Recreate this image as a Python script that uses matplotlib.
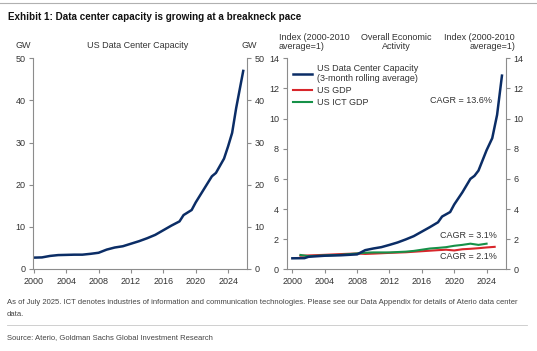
import matplotlib
matplotlib.use("Agg")
import matplotlib.pyplot as plt
from matplotlib.lines import Line2D

# US data center capacity, GW
gw_years = [2000.0, 2001.0, 2002.0, 2003.0, 2004.0, 2005.0, 2006.0, 2007.0, 2008.0,
            2009.0, 2010.0, 2011.0, 2012.0, 2013.0, 2014.0, 2015.0, 2016.0, 2017.0,
            2018.0, 2018.5, 2019.5, 2020.0, 2021.0, 2022.0, 2022.5, 2023.0, 2023.5,
            2024.0, 2024.5, 2025.0, 2025.9]
gw_values = [2.7, 2.75, 3.1, 3.3, 3.35, 3.4, 3.4, 3.6, 3.85,
             4.6, 5.1, 5.4, 6.0, 6.6, 7.3, 8.1, 9.2, 10.3,
             11.3, 12.8, 14.0, 15.8, 18.9, 22.0, 22.8, 24.5, 26.2,
             29.1, 32.3, 38.2, 47.3]

# Index (2000-2010 average = 1)
dc_years = [2000.0, 2001.5, 2002.0, 2004.0, 2006.0, 2008.0, 2009.0, 2010.0, 2011.0,
            2012.0, 2013.0, 2014.0, 2015.0, 2016.0, 2017.0, 2018.0, 2018.5, 2019.5,
            2020.0, 2021.0, 2022.0, 2022.5, 2023.0, 2024.0, 2024.7, 2025.3, 2025.9]
dc_index = [0.73, 0.74, 0.83, 0.9, 0.93, 0.99, 1.27, 1.38, 1.47,
            1.62, 1.78, 1.98, 2.2, 2.5, 2.8, 3.12, 3.5, 3.8,
            4.3, 5.1, 6.0, 6.2, 6.55, 7.9, 8.7, 10.25, 12.85]

gdp_years = [2001, 2002, 2004, 2006, 2008, 2009, 2010, 2012, 2014, 2016, 2018,
             2019, 2020, 2021, 2022, 2023, 2024, 2025]
gdp_index = [0.9, 0.92, 0.96, 1.01, 1.05, 1.02, 1.04, 1.09, 1.13, 1.2, 1.27,
             1.3, 1.25, 1.33, 1.36, 1.4, 1.45, 1.49]

ict_years = [2001, 2002, 2004, 2006, 2008, 2009, 2010, 2012, 2014, 2015, 2016,
             2017, 2018, 2019, 2020, 2021, 2022, 2023, 2024]
ict_index = [0.95, 0.87, 0.92, 0.96, 1.05, 1.1, 1.12, 1.12, 1.17, 1.22, 1.3,
             1.38, 1.42, 1.47, 1.56, 1.62, 1.7, 1.62, 1.7]

year_ticks = [2000, 2004, 2008, 2012, 2016, 2020, 2024]

NAVY = "#0b2d66"
RED = "#d8262b"
GREEN = "#169148"
SPINE = "#8c8c8c"
TXT = "#333333"

plt.rcParams["font.family"] = ["Liberation Sans", "DejaVu Sans"]

W, H = 537, 351
fig = plt.figure(figsize=(W / 100, H / 100), dpi=100)


def px(x, y):
    return x / W, 1 - y / H


def style_axis(ax):
    ax.spines["top"].set_visible(False)
    for s in ("left", "right", "bottom"):
        ax.spines[s].set_color(SPINE)
        ax.spines[s].set_linewidth(0.8)
    ax.tick_params(axis="both", direction="out", length=3, width=0.8, color=SPINE,
                   labelsize=6.5, labelcolor=TXT, pad=2.5)
    ax.tick_params(axis="y", right=True, labelright=True)
    ax.set_xticks(year_ticks)
    ax.set_xticklabels([str(y) for y in year_ticks])


# left panel
axL = fig.add_axes([33 / W, 1 - 269 / H, (246.7 - 33) / W, (269 - 58.3) / H])
axL.plot(gw_years, gw_values, color=NAVY, lw=1.8, solid_capstyle="butt")
axL.set_xlim(1999.9, 2026.3)
axL.set_ylim(0, 50)
axL.set_yticks(range(0, 51, 10))
style_axis(axL)

# right panel
axR = fig.add_axes([286.7 / W, 1 - 269.3 / H, (506 - 286.7) / W, (269.3 - 58.3) / H])
axR.plot(gdp_years, gdp_index, color=RED, lw=1.5, zorder=2)
axR.plot(ict_years, ict_index, color=GREEN, lw=1.5, zorder=3)
axR.plot(dc_years, dc_index, color=NAVY, lw=1.8, zorder=4)
axR.set_xlim(1999.3, 2026.4)
axR.set_ylim(0, 14)
axR.set_yticks(range(0, 15, 2))
style_axis(axR)

handles = [Line2D([], [], color=NAVY, lw=1.8),
           Line2D([], [], color=RED, lw=1.5),
           Line2D([], [], color=GREEN, lw=1.5)]
labels = ["US Data Center Capacity\n(3-month rolling average)", "US GDP", "US ICT GDP"]
axR.legend(handles, labels, loc="upper left", bbox_to_anchor=(0.027, 0.975),
           frameon=False, fontsize=6.5, handlelength=2.1, handletextpad=0.55,
           borderpad=0, borderaxespad=0, labelspacing=0.35, labelcolor=TXT)

axR.text(2017.0, 11.2, "CAGR = 13.6%", fontsize=6.5, color=TXT, ha="left", va="center")
axR.text(2025.3, 2.23, "CAGR = 3.1%", fontsize=6.5, color=TXT, ha="right", va="center")
axR.text(2025.3, 0.88, "CAGR = 2.1%", fontsize=6.5, color=TXT, ha="right", va="center")

# panel headers
fig.text(*px(23, 46), "GW", fontsize=6.5, color=TXT, ha="center", va="center")
fig.text(*px(138, 46), "US Data Center Capacity", fontsize=6.5, color=TXT, ha="center", va="center")
fig.text(*px(249, 46), "GW", fontsize=6.5, color=TXT, ha="center", va="center")
fig.text(*px(279, 42), "Index (2000-2010\naverage=1)", fontsize=6.5, color=TXT,
         ha="left", va="center", multialignment="left", linespacing=1.0)
fig.text(*px(396.5, 42), "Overall Economic\nActivity", fontsize=6.5, color=TXT,
         ha="center", va="center", multialignment="center", linespacing=1.0)
fig.text(*px(515, 42), "Index (2000-2010\naverage=1)", fontsize=6.5, color=TXT,
         ha="right", va="center", multialignment="right", linespacing=1.0)

# title and rules
fig.add_artist(Line2D([0, 1], [1 - 2.5 / H, 1 - 2.5 / H], color="#b0b0b0", lw=0.8))
fig.text(*px(8, 17), "Exhibit 1: Data center capacity is growing at a breakneck pace",
         fontsize=7.1, fontweight="bold", color="#111111", ha="left", va="center")

fig.text(*px(7, 302), "As of July 2025. ICT denotes industries of information and communication "
         "technologies. Please see our Data Appendix for details of Aterio data center",
         fontsize=5.5, color="#444444", ha="left", va="center")
fig.text(*px(7, 315), "data.", fontsize=5.5, color="#444444", ha="left", va="center")
fig.add_artist(Line2D([7 / W, 527 / W], [1 - 325 / H, 1 - 325 / H], color="#c8c8c8", lw=0.6))
fig.text(*px(7, 338), "Source: Aterio, Goldman Sachs Global Investment Research",
         fontsize=5.5, color="#444444", ha="left", va="center")

fig.savefig("out.png", dpi=100)
